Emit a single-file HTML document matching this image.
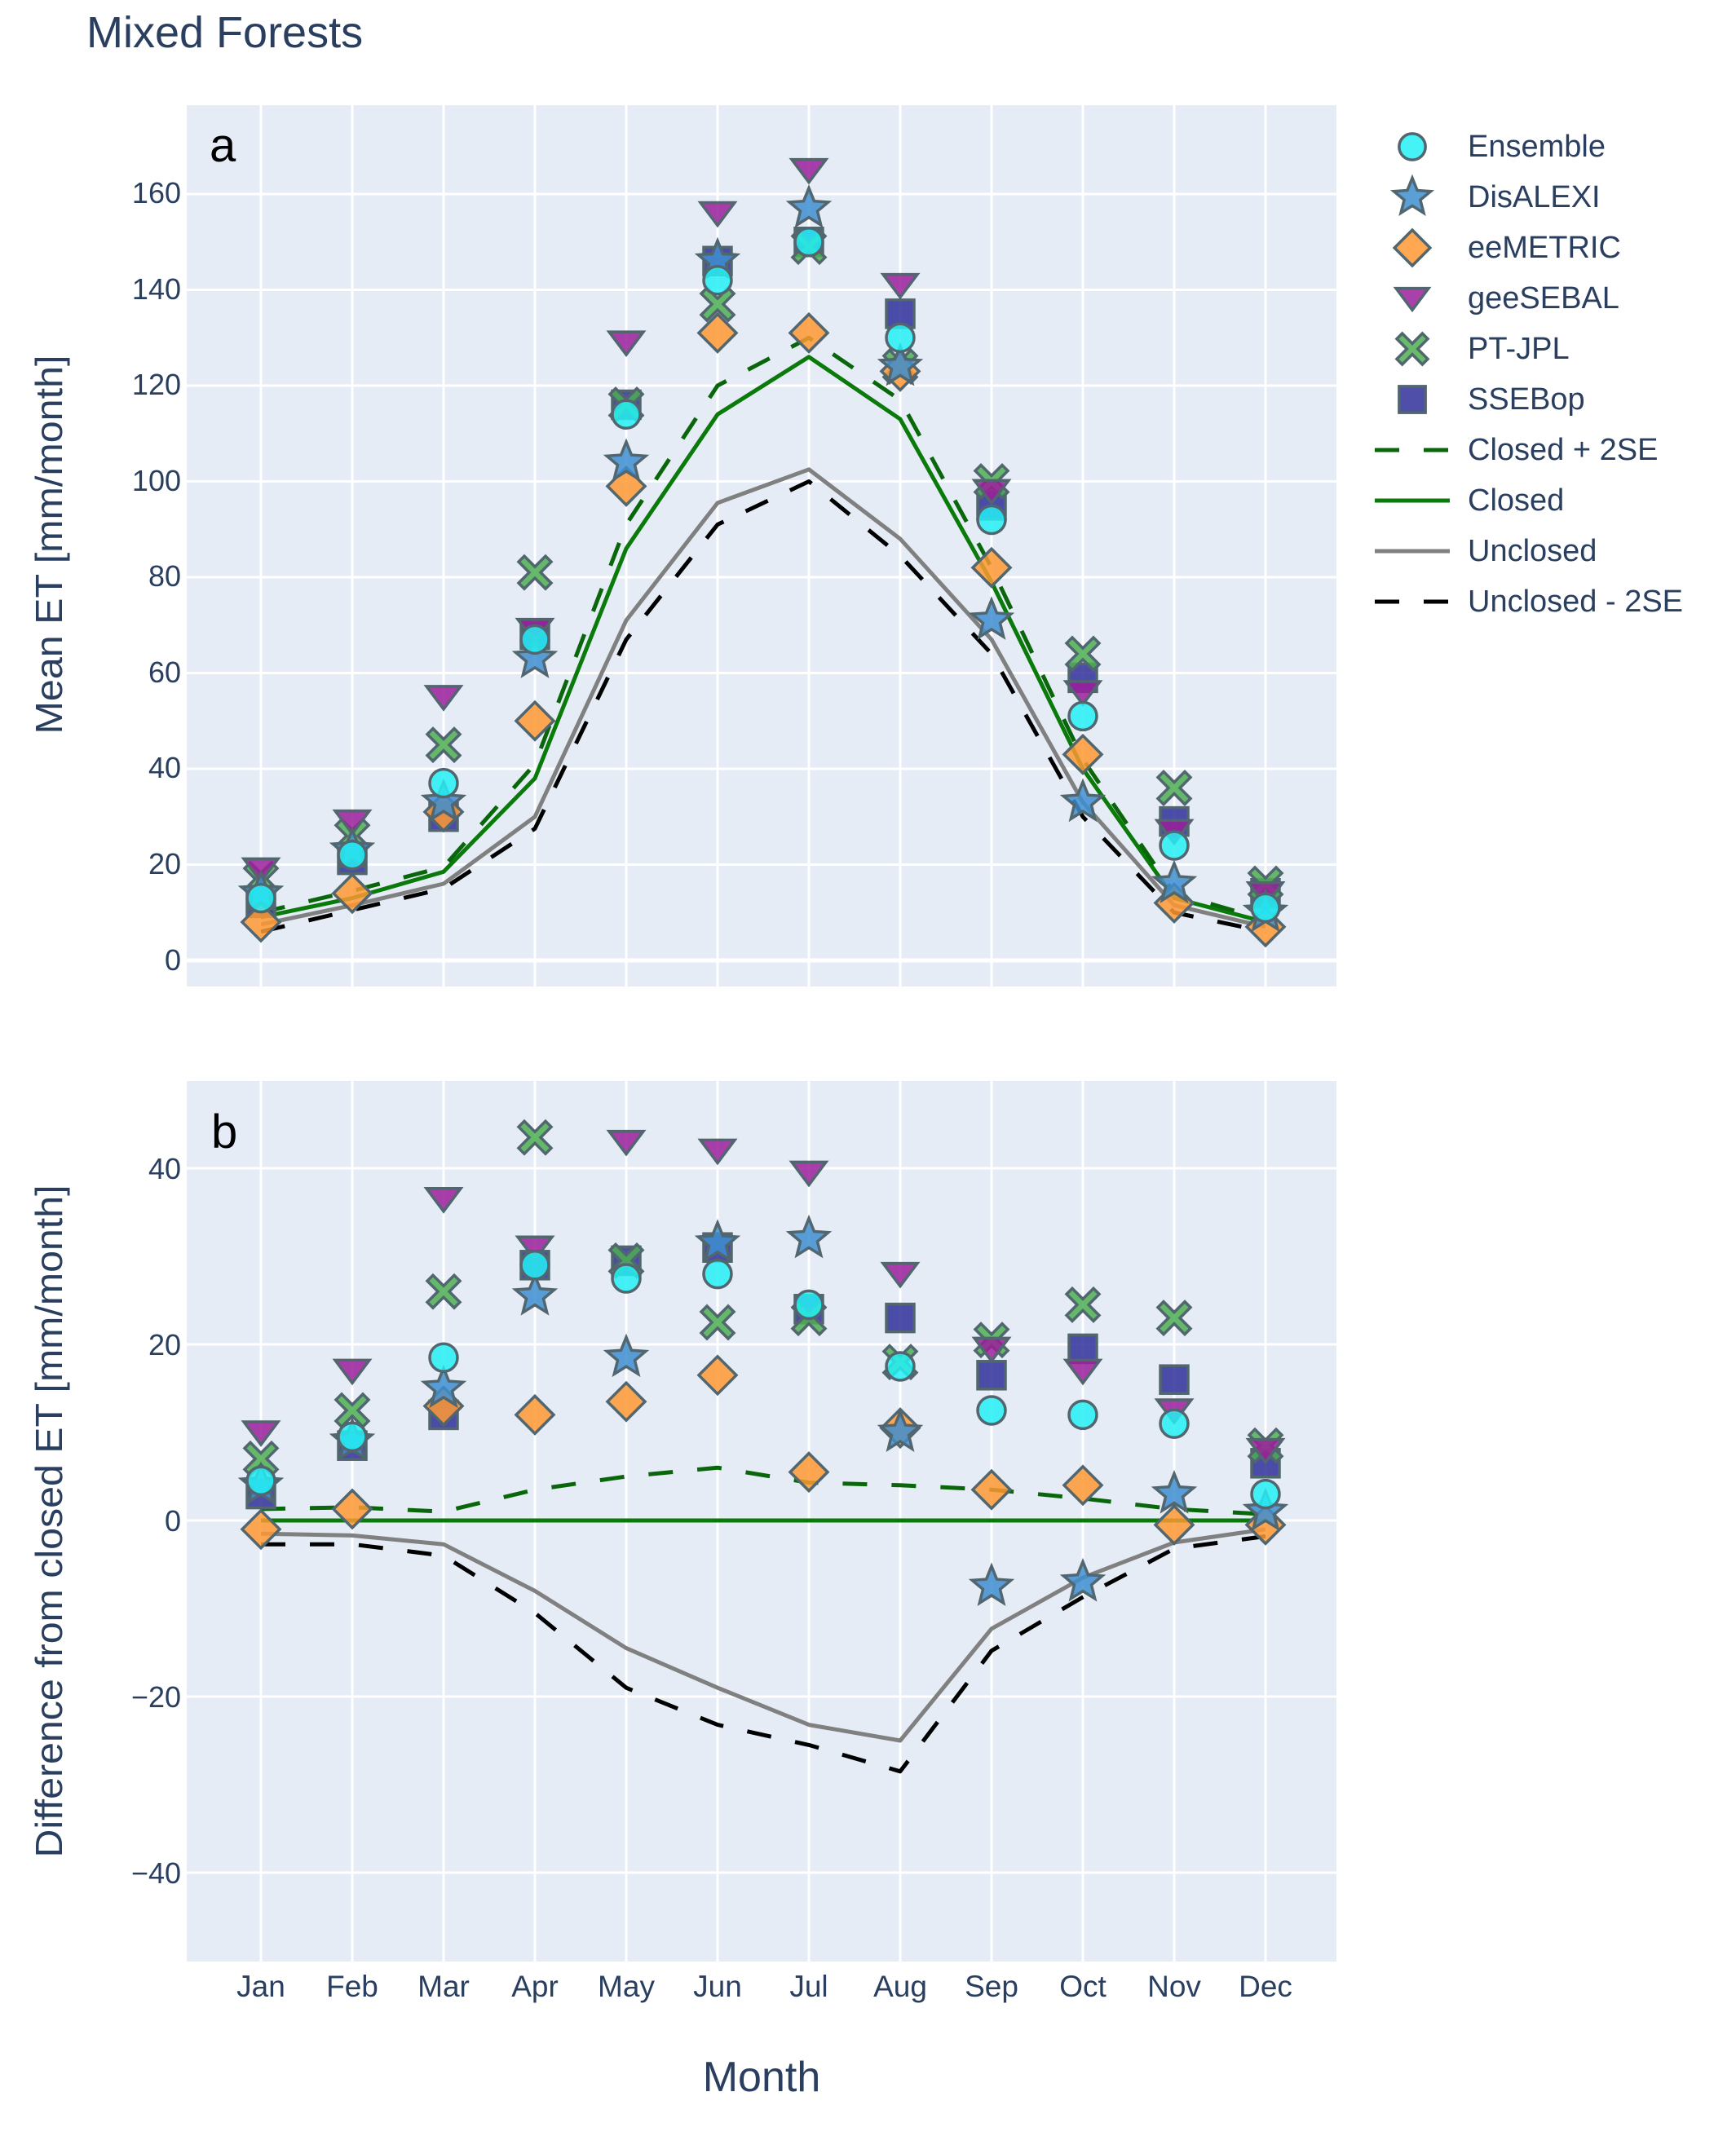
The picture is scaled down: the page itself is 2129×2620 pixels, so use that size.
<!DOCTYPE html>
<html><head><meta charset="utf-8"><style>
html,body{margin:0;padding:0;background:#fff;}
svg{display:block;}
text{font-family:"Liberation Sans","DejaVu Sans",sans-serif;fill:#2a3f5f;}
</style></head><body>
<svg id="s" width="2129" height="2620" viewBox="0 0 2129 2620" xmlns="http://www.w3.org/2000/svg">
<rect x="0" y="0" width="2129" height="2620" fill="#fff"/>
<text x="106" y="58" font-size="54">Mixed Forests</text>
<!-- panel a -->
<rect x="229" y="129" width="1410" height="1081" fill="#e5ecf6"/>
<g id="ga"></g>
<!-- panel b -->
<rect x="229" y="1326" width="1410" height="1080" fill="#e5ecf6"/>
<g id="gb"></g>
<g font-size="36" text-anchor="end">
<text x="222" y="249">160</text><text x="222" y="367">140</text><text x="222" y="484">120</text>
<text x="222" y="602">100</text><text x="222" y="719">80</text><text x="222" y="837">60</text>
<text x="222" y="954">40</text><text x="222" y="1072">20</text><text x="222" y="1190">0</text>
<text x="222" y="1446">40</text><text x="222" y="1662">20</text><text x="222" y="1878">0</text>
<text x="222" y="2094">−20</text><text x="222" y="2310">−40</text>
</g>
<g font-size="37" text-anchor="middle">
<text x="320" y="2449">Jan</text><text x="432" y="2449">Feb</text><text x="544" y="2449">Mar</text>
<text x="656" y="2449">Apr</text><text x="768" y="2449">May</text><text x="880" y="2449">Jun</text>
<text x="992" y="2449">Jul</text><text x="1104" y="2449">Aug</text><text x="1216" y="2449">Sep</text>
<text x="1328" y="2449">Oct</text><text x="1440" y="2449">Nov</text><text x="1552" y="2449">Dec</text>
</g>
<text x="934" y="2565" font-size="52" text-anchor="middle">Month</text>
<text transform="translate(76,668) rotate(-90)" font-size="46" text-anchor="middle" textLength="465" lengthAdjust="spacingAndGlyphs">Mean ET [mm/month]</text>
<text transform="translate(76,1866) rotate(-90)" font-size="46" text-anchor="middle" textLength="825" lengthAdjust="spacingAndGlyphs">Difference from closed ET [mm/month]</text>
<text x="257" y="198" font-size="58" style="fill:#000">a</text>
<text x="259" y="1408" font-size="58" style="fill:#000">b</text>
<g id="lg"></g>
<g font-size="38">
<text x="1800" y="192">Ensemble</text><text x="1800" y="254">DisALEXI</text>
<text x="1800" y="316">eeMETRIC</text><text x="1800" y="378">geeSEBAL</text>
<text x="1800" y="440">PT-JPL</text><text x="1800" y="502">SSEBop</text>
<text x="1800" y="564">Closed + 2SE</text><text x="1800" y="626">Closed</text>
<text x="1800" y="688">Unclosed</text><text x="1800" y="750">Unclosed - 2SE</text>
</g>
</svg>
<script>
var NS="http://www.w3.org/2000/svg";
function el(p,t,a){var e=document.createElementNS(NS,t);for(var k in a)e.setAttribute(k,a[k]);p.appendChild(e);return e;}
function X(i){return 320+i*112;}
var ya=function(v){return 1178-v*5.875;}, yb=function(v){return 1865-v*10.8;};
var STK="#51666f";
function marker(g,type,x,y,s){
 s=s||1;var c={"stroke":STK,"stroke-width":3.5,"fill-opacity":0.85};
 var a;
 if(type=="E"){a=el(g,"circle",{cx:x,cy:y,r:17*s,fill:"#25f0f5"});}
 else if(type=="D"){var R=25*s,r=11*s,pts=[];for(var k=0;k<10;k++){var ang=-Math.PI/2+k*Math.PI/5,rr=k%2?r:R;pts.push((x+rr*Math.cos(ang)).toFixed(1)+","+(y+rr*Math.sin(ang)).toFixed(1));}a=el(g,"polygon",{points:pts.join(" "),fill:"#3e8ed0"});}
 else if(type=="M"){var h=23*s;a=el(g,"polygon",{points:[x,y-h,x+h,y,x,y+h,x-h,y].join(" "),fill:"#ff9933"});}
 else if(type=="G"){var w=21*s;a=el(g,"polygon",{points:[x-w,y-13*s,x+w,y-13*s,x,y+15*s].join(" "),fill:"#9b1f9b"});}
 else if(type=="P"){var q=7*s,L=20*s;var pts2=[[0,-q],[L-q,-L],[L,-L+q],[q,0],[L,L-q],[L-q,L],[0,q],[-L+q,L],[-L,L-q],[-q,0],[-L,-L+q],[-L+q,-L]];a=el(g,"polygon",{points:pts2.map(function(p){return (x+p[0])+","+(y+p[1]);}).join(" "),fill:"#4caf50"});}
 else if(type=="S"){var h2=17*s;a=el(g,"rect",{x:x-h2,y:y-h2,width:2*h2,height:2*h2,fill:"#30309a"});}
 for(var k in c)a.setAttribute(k,c[k]);
}
function grid(g,ys,top,bot){
 for(var i=0;i<12;i++)el(g,"line",{x1:X(i),x2:X(i),y1:top,y2:bot,stroke:"#fff","stroke-width":3});
 ys.forEach(function(y){el(g,"line",{x1:229,x2:1639,y1:y,y2:y,stroke:"#fff","stroke-width":3});});
}
function line(g,vals,f,col,dash){
 var p=vals.map(function(v,i){return X(i).toFixed(1)+","+f(v).toFixed(1);}).join(" ");
 var a={points:p,fill:"none",stroke:col,"stroke-width":5,"stroke-linejoin":"round"};
 if(dash)a["stroke-dasharray"]="30,30";
 el(g,"polyline",a);
}
var ga=document.getElementById("ga"),gb=document.getElementById("gb");
var ga_y=[];for(var v=0;v<=160;v+=20)ga_y.push(ya(v));
grid(ga,ga_y,129,1210);
el(ga,"line",{x1:229,x2:1639,y1:ya(0),y2:ya(0),stroke:"#fff","stroke-width":5});
var gb_y=[];for(var v=-40;v<=40;v+=20)gb_y.push(yb(v));
grid(gb,gb_y,1326,2406);
line(ga,[9,13,18.5,38,86,114,126,113,79,40,13,8],ya,"#0a7a0a");
line(ga,[10,14.5,19.5,41,91,120,130,117,82,42,14,8.5],ya,"#0a660a",true);
line(ga,[7.5,11.5,16,30,71,95.5,102.5,88,67,33,11.5,7],ya,"#808080");
line(ga,[6,10.5,15,27.5,67,91,100,84.5,64,30,10,6],ya,"#000",true);
line(gb,[0,0,0,0,0,0,0,0,0,0,0,0],yb,"#0a7a0a");
line(gb,[1.3,1.5,1,3.5,5,6,4.3,4,3.5,2.5,1.3,0.7],yb,"#0a660a",true);
line(gb,[-1.5,-1.7,-2.7,-8,-14.5,-19,-23.2,-25,-12.3,-6.5,-2.5,-1],yb,"#808080");
line(gb,[-2.7,-2.7,-4,-10.5,-19,-23.2,-25.5,-28.5,-14.8,-8.7,-3.2,-1.8],yb,"#000",true);
var A={
S:[12,21,30,68,116,146,150,135,95,59,29,14],
P:[17,26,45,81,116,137,149,124,100,64,36,16],
G:[19,29,55,69,129,156,165,141,98,56,27,14],
M:[8,14,31,50,99,131,131,123,82,43,12,7],
D:[14,23,33,63,104,146,157,124,71,33,16,10],
E:[13,22,37,67,114,142,150,130,92,51,24,11]};
var B={
S:[3,8.5,12,29,29.5,31,24,23,16.5,19.5,16,6.5],
P:[7,12.5,26,43.5,29.5,22.5,23,18,20.5,24.5,23,8.5],
G:[10,17,36.5,31,43,42,39.5,28,19.5,17,12.5,8],
M:[-1,1.3,13,12,13.5,16.5,5.5,10.5,3.5,4,-0.5,-0.5],
D:[4,9,15,25.5,18.5,31.5,32,10,-7.5,-7,3,1],
E:[4.5,9.5,18.5,29,27.5,28,24.5,17.5,12.5,12,11,3]};
["S","P","G","M","D","E"].forEach(function(t){
 A[t].forEach(function(v,i){marker(ga,t,X(i),ya(v));});
 B[t].forEach(function(v,i){marker(gb,t,X(i),yb(v));});
});
var lg=document.getElementById("lg");
["E","D","M","G","P","S"].forEach(function(t,k){marker(lg,t,1732,180+62*k,0.95);});
var ls=[["#0a660a",1],["#0a7a0a",0],["#808080",0],["#000",1]];
ls.forEach(function(l,k){var y=552+62*k;var a={x1:1686,x2:1778,y1:y,y2:y,stroke:l[0],"stroke-width":5};if(l[1])a["stroke-dasharray"]="30,30";el(lg,"line",a);});
</script>
</body></html>
